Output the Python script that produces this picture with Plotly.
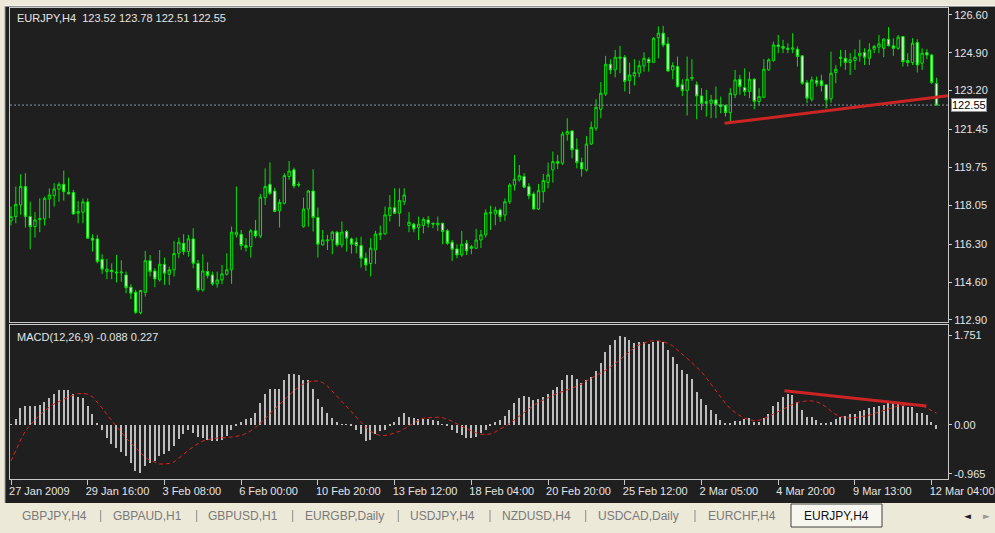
import plotly.graph_objects as go

# ---------------- data ----------------
opens = [117.35,117.54,118.06,118.89,117.54,117.09,117.40,117.44,118.33,118.48,
 118.77,118.99,118.62,118.62,117.69,117.74,118.20,116.57,116.54,115.62,
 115.07,115.13,115.05,115.01,114.92,114.37,114.14,113.23,114.14,115.56,
 115.10,114.70,115.40,114.95,115.15,115.89,116.34,115.97,116.54,115.44,
 114.25,115.07,114.92,114.52,114.70,114.95,115.15,116.72,116.75,116.24,
 116.19,116.90,116.67,118.39,118.99,118.69,117.80,118.14,119.34,119.64,
 118.99,117.09,117.88,118.69,117.50,116.27,116.45,116.49,116.84,116.27,
 116.87,116.54,116.39,116.24,115.67,115.43,116.04,116.72,116.76,117.59,
 117.94,117.69,118.21,117.14,117.20,117.05,117.14,117.39,117.24,117.17,
 117.24,116.90,116.39,116.09,115.82,116.34,116.19,116.12,116.49,116.72,
 117.72,117.66,117.84,117.61,118.21,118.96,119.19,119.34,118.89,118.56,
 117.88,118.66,119.08,119.64,120.01,119.94,121.24,121.39,120.56,119.97,
 119.64,120.80,121.51,122.36,123.05,124.38,124.13,124.70,124.70,123.65,
 123.86,123.98,124.31,124.61,124.47,125.58,125.78,125.30,124.13,124.28,
 123.46,123.20,123.74,123.46,122.96,122.70,122.63,122.78,122.56,122.54,
 122.21,123.01,123.71,123.34,123.16,123.71,122.71,122.90,124.13,124.55,
 125.25,125.18,125.10,125.06,125.06,124.76,123.56,122.81,123.65,123.64,
 123.46,122.83,124.01,124.64,124.65,124.46,124.55,124.76,124.91,124.65,
 125.06,125.15,125.10,125.51,125.21,125.10,125.63,124.55,124.46,125.36,
 124.43,124.91,124.80,123.52]
highs = [117.99,118.89,119.44,119.49,118.21,117.74,118.36,118.44,118.81,119.04,
 119.08,119.61,119.29,118.74,118.24,118.36,118.36,116.75,116.72,115.85,
 115.64,115.44,115.82,115.58,115.07,114.50,114.25,114.25,116.00,115.82,
 115.22,116.04,115.70,115.30,116.45,116.60,116.75,116.72,117.02,115.59,
 115.85,115.49,115.07,115.07,115.37,115.89,117.09,118.89,116.94,116.57,
 116.99,117.39,118.56,119.71,119.98,118.84,118.32,119.49,120.04,119.74,
 119.11,118.39,118.74,119.67,117.94,116.94,116.72,116.90,116.90,117.32,
 116.94,116.60,116.60,116.64,115.92,116.57,116.90,117.14,117.99,118.51,
 118.81,118.81,118.81,117.74,117.27,117.54,117.50,117.57,117.27,117.54,
 117.27,116.99,116.49,116.30,116.90,116.49,116.27,116.99,116.94,117.87,
 118.03,117.99,117.91,118.36,119.04,120.31,119.86,119.49,119.04,118.66,
 119.01,119.46,119.97,120.46,120.31,121.36,121.96,121.43,121.06,120.19,
 121.16,121.81,122.81,123.58,124.76,124.61,125.03,125.21,124.80,124.46,
 124.61,124.55,124.92,124.70,125.60,126.08,126.11,125.60,124.47,124.73,
 123.71,124.73,124.61,123.61,123.31,123.23,123.01,123.38,122.93,122.56,
 123.31,124.13,123.91,124.20,124.05,123.76,123.31,124.61,124.65,125.40,
 125.70,125.48,125.33,125.78,125.18,124.80,123.68,123.83,123.83,123.91,
 123.46,124.95,124.35,125.03,125.03,124.88,125.06,125.48,125.10,125.33,
 125.25,125.70,125.55,126.05,125.55,125.70,125.66,124.88,125.55,125.51,
 125.10,125.06,124.85,123.78]
lows = [117.14,117.24,117.62,117.05,116.07,116.60,116.84,117.14,117.47,117.99,
 118.21,118.26,118.54,117.62,117.24,117.24,116.54,115.97,115.44,114.97,
 114.73,114.73,114.58,114.62,114.10,113.84,113.17,113.15,113.95,114.85,
 114.37,114.62,114.47,114.47,114.85,115.67,115.82,115.74,115.22,114.17,
 114.17,114.77,114.44,114.35,114.50,114.89,114.52,116.60,116.04,115.97,
 115.70,116.57,116.57,118.06,118.51,117.74,117.05,118.09,119.19,118.81,
 118.86,117.05,117.09,116.87,115.70,116.24,116.04,115.85,116.19,116.15,
 115.97,115.88,115.89,115.25,115.10,114.85,115.41,116.49,116.72,117.32,
 117.65,117.09,118.06,116.84,116.84,116.49,116.79,117.05,117.02,116.90,
 116.30,116.27,115.55,115.67,115.74,115.82,115.85,116.09,116.13,116.60,
 116.94,117.15,117.30,117.35,118.11,118.71,119.11,118.81,118.32,117.84,
 117.84,118.17,118.81,119.07,119.67,119.86,120.95,120.16,119.71,119.34,
 119.56,120.76,121.39,121.96,122.96,123.94,123.80,123.98,123.16,123.05,
 123.43,123.80,124.05,124.05,124.46,124.65,125.15,124.05,123.71,123.34,
 122.96,122.08,123.64,121.91,122.33,122.03,121.96,121.96,122.18,122.03,
 121.73,122.86,123.01,122.96,122.86,122.36,122.56,122.86,124.10,124.50,
 124.88,124.88,124.88,124.88,124.28,123.46,122.63,122.71,123.38,123.16,
 122.41,122.66,123.53,124.28,124.13,123.90,124.13,124.50,124.35,124.35,
 124.88,124.88,124.70,125.18,124.76,125.03,124.28,124.28,124.35,124.01,
 124.13,124.61,123.50,122.51]
closes = [117.54,118.09,118.89,117.54,117.09,117.39,117.45,118.36,118.51,118.78,
 118.99,118.66,118.56,117.66,117.77,118.20,116.57,116.48,115.52,115.18,
 115.18,115.07,115.01,115.05,114.35,114.10,113.24,114.22,115.56,115.07,
 114.74,115.40,115.00,115.15,115.88,116.39,115.97,116.54,115.44,114.25,
 115.10,114.89,114.52,114.70,114.97,115.15,116.84,116.84,116.24,116.15,
 116.90,116.67,118.41,118.89,118.59,117.77,118.18,119.38,119.59,118.92,
 118.96,117.88,118.69,117.50,116.30,116.49,116.49,116.84,116.27,116.84,
 116.57,116.30,116.24,115.67,115.37,116.12,116.76,116.79,117.62,117.94,
 117.69,118.26,118.51,117.29,116.99,117.20,117.42,117.24,117.21,117.24,
 116.87,116.34,116.07,115.82,116.30,116.00,116.12,116.49,116.72,117.71,
 117.70,117.84,117.54,118.21,118.96,119.22,119.38,118.86,118.48,117.88,
 118.71,119.16,119.41,120.01,119.94,121.25,121.36,120.54,119.97,119.68,
 120.80,121.55,122.45,123.08,124.38,124.13,124.70,124.66,123.61,123.90,
 124.01,124.32,124.65,124.46,125.55,125.78,125.25,124.08,124.32,123.38,
 123.20,123.71,123.79,122.96,122.63,122.63,122.78,122.56,122.48,122.21,
 123.08,123.68,123.38,123.16,123.71,122.71,122.93,124.16,124.58,125.25,
 125.18,125.10,125.06,125.12,124.73,123.53,122.86,123.68,123.53,123.43,
 122.78,123.98,124.16,124.70,124.46,124.58,124.70,124.88,124.70,125.03,
 125.18,125.30,125.51,125.21,125.10,125.60,124.50,124.46,125.33,124.35,
 124.88,124.80,123.56,122.55]

macd_hist = [0.01,0.11,0.32,0.36,0.36,0.36,0.39,0.45,0.52,0.60,
 0.69,0.69,0.69,0.60,0.54,0.52,0.37,0.21,0.02,-0.10,
 -0.26,-0.37,-0.45,-0.54,-0.62,-0.76,-0.91,-0.94,-0.81,-0.75,
 -0.71,-0.62,-0.58,-0.52,-0.41,-0.28,-0.19,-0.10,-0.16,-0.24,
 -0.26,-0.30,-0.32,-0.32,-0.29,-0.23,-0.11,-0.02,0.06,0.11,
 0.13,0.24,0.42,0.60,0.71,0.71,0.71,0.88,0.99,0.99,
 0.97,0.88,0.88,0.71,0.50,0.34,0.23,0.13,0.05,0.01,
 0.01,-0.01,-0.10,-0.19,-0.32,-0.30,-0.19,-0.13,-0.11,-0.01,
 0.05,0.16,0.24,0.16,0.13,0.11,0.11,0.11,0.10,0.08,
 0.01,-0.01,-0.10,-0.16,-0.21,-0.26,-0.26,-0.24,-0.16,-0.10,
 -0.01,0.06,0.10,0.18,0.30,0.43,0.52,0.56,0.54,0.49,
 0.50,0.54,0.60,0.68,0.75,0.88,0.97,0.97,0.89,0.82,
 0.88,0.93,1.06,1.21,1.43,1.56,1.67,1.75,1.72,1.67,
 1.60,1.62,1.62,1.58,1.62,1.64,1.62,1.47,1.33,1.19,
 1.08,0.99,0.89,0.65,0.50,0.39,0.29,0.21,0.10,0.02,
 0.03,0.08,0.08,0.11,0.13,0.06,0.05,0.13,0.21,0.37,
 0.45,0.54,0.60,0.58,0.45,0.29,0.16,0.16,0.10,0.03,
 0.03,0.06,0.11,0.16,0.18,0.21,0.21,0.28,0.30,0.32,
 0.34,0.37,0.39,0.42,0.42,0.41,0.37,0.34,0.34,0.23,
 0.23,0.19,0.06,-0.088]
macd_signal = [-0.71,-0.50,-0.30,-0.12,0.00,0.10,0.19,0.28,0.35,0.41,
 0.46,0.51,0.55,0.58,0.61,0.62,0.60,0.55,0.45,0.33,
 0.20,0.08,-0.04,-0.16,-0.26,-0.36,-0.46,-0.56,-0.64,-0.70,
 -0.74,-0.77,-0.77,-0.76,-0.73,-0.66,-0.58,-0.50,-0.43,-0.37,
 -0.32,-0.29,-0.27,-0.26,-0.26,-0.25,-0.24,-0.23,-0.21,-0.17,
 -0.12,-0.05,0.03,0.12,0.22,0.31,0.40,0.50,0.59,0.67,
 0.74,0.80,0.84,0.86,0.86,0.83,0.76,0.66,0.56,0.45,
 0.34,0.24,0.14,0.04,-0.05,-0.13,-0.18,-0.21,-0.21,-0.19,
 -0.16,-0.13,-0.08,-0.02,0.04,0.09,0.13,0.14,0.15,0.15,
 0.14,0.11,0.07,0.02,-0.03,-0.08,-0.12,-0.16,-0.19,-0.19,
 -0.18,-0.14,-0.08,-0.04,0.03,0.11,0.18,0.25,0.31,0.38,
 0.44,0.49,0.54,0.58,0.62,0.65,0.69,0.72,0.76,0.80,
 0.86,0.91,0.96,1.01,1.07,1.13,1.20,1.28,1.36,1.44,
 1.51,1.57,1.61,1.64,1.65,1.65,1.63,1.60,1.55,1.47,
 1.39,1.30,1.22,1.13,1.04,0.92,0.79,0.66,0.53,0.42,
 0.32,0.24,0.18,0.13,0.10,0.08,0.09,0.12,0.16,0.21,
 0.26,0.30,0.35,0.40,0.44,0.46,0.47,0.47,0.45,0.41,
 0.35,0.27,0.20,0.16,0.14,0.13,0.14,0.15,0.17,0.19,
 0.22,0.25,0.28,0.31,0.34,0.37,0.38,0.39,0.39,0.38,
 0.37,0.33,0.28,0.227]

bar_index = list(range(len(opens)))

time_tick_index = [0, 16, 32, 48, 64, 80, 96, 112, 128, 144, 160, 176, 192]
time_tick_labels = ["27 Jan 2009", "29 Jan 16:00", "3 Feb 08:00", "6 Feb 00:00",
                    "10 Feb 20:00", "13 Feb 12:00", "18 Feb 04:00", "20 Feb 20:00",
                    "25 Feb 12:00", "2 Mar 05:00", "4 Mar 20:00", "9 Mar 13:00",
                    "12 Mar 04:00"]
price_ticks = [126.60, 124.90, 123.20, 121.45, 119.75, 118.05, 116.30, 114.60, 112.90]
macd_ticks = [1.751, 0.00, -0.965]
macd_tick_labels = ["1.751", "0.00", "-0.965"]
current_price = 122.55

price_trend_x = [148.8, 195.4]
price_trend_y = [121.73, 122.97]
macd_trend_x = [161.3, 190.9]
macd_trend_y = [0.67, 0.37]

title_main = "EURJPY,H4  123.52 123.78 122.51 122.55"
title_macd = "MACD(12,26,9) -0.088 0.227"
tabs = ["GBPJPY,H4", "GBPAUD,H1", "GBPUSD,H1", "EURGBP,Daily", "USDJPY,H4",
        "NZDUSD,H4", "USDCAD,Daily", "EURCHF,H4", "EURJPY,H4"]
active_tab = "EURJPY,H4"

# ---------------- figure ----------------
W, H = 995, 533
ML, MR, MT, MB = 10, 47, 8, 54
PW, PH = W - ML - MR, H - MT - MB

def px_x(p):
    return (p - ML) / PW

def px_y(p):
    return (H - MB - p) / PH

BG = "#1f1f1f"
FRAME = "#c8c8c8"
TXT = "#e4e4e4"
FONT = "Liberation Sans"
XR = [-0.21, 195.4]

fig = go.Figure()
fig.add_trace(go.Candlestick(
    x=bar_index, open=opens, high=highs, low=lows, close=closes,
    xaxis="x", yaxis="y",
    increasing=dict(line=dict(color="#00e600", width=1), fillcolor=BG),
    decreasing=dict(line=dict(color="#00e600", width=1), fillcolor="#d8ffd8"),
    whiskerwidth=0, showlegend=False, hoverinfo="skip"))

fig.add_trace(go.Scatter(x=[XR[0], XR[1]], y=[current_price, current_price],
    mode="lines", line=dict(color="#8a98a8", width=1, dash="2px,2px"),
    xaxis="x", yaxis="y", showlegend=False, hoverinfo="skip"))

fig.add_trace(go.Scatter(x=price_trend_x, y=price_trend_y, mode="lines",
    line=dict(color="#cc2424", width=3), xaxis="x", yaxis="y",
    showlegend=False, hoverinfo="skip"))

fig.add_trace(go.Bar(x=bar_index, y=macd_hist, width=0.3,
    marker=dict(color="#bdbdbd", line=dict(width=0)),
    xaxis="x2", yaxis="y2", showlegend=False, hoverinfo="skip"))

fig.add_trace(go.Scatter(x=bar_index, y=macd_signal, mode="lines",
    line=dict(color="#e02020", width=1, dash="4px,3px"),
    xaxis="x2", yaxis="y2", showlegend=False, hoverinfo="skip"))

fig.add_trace(go.Scatter(x=macd_trend_x, y=macd_trend_y, mode="lines",
    line=dict(color="#cc2424", width=3), xaxis="x2", yaxis="y2",
    showlegend=False, hoverinfo="skip"))

axis_common = dict(showgrid=False, zeroline=False, showline=True, mirror=True,
                   linecolor=FRAME, linewidth=1, automargin=False)

main_top = 8
main_bot = 321.7
macd_top = 325

fig.update_layout(
    width=W, height=H,
    margin=dict(l=ML, r=MR, t=MT, b=MB, autoexpand=False),
    paper_bgcolor=BG, plot_bgcolor=BG,
    font=dict(family=FONT, size=11, color=TXT),
    bargap=0,
    hovermode=False,
    xaxis=dict(domain=[0, 1], anchor="y", range=XR, showticklabels=False,
               ticks="", rangeslider=dict(visible=False), **axis_common),
    yaxis=dict(domain=[px_y(main_bot), px_y(main_top)], anchor="x", side="right",
               range=[112.82, 126.91], tickvals=price_ticks,
               ticktext=["%.2f" % v for v in price_ticks],
               ticks="outside", ticklen=3, tickcolor=FRAME,
               tickfont=dict(family=FONT, size=11, color=TXT), **axis_common),
    xaxis2=dict(domain=[0, 1], anchor="y2", range=XR, tickvals=time_tick_index,
                ticktext=time_tick_labels, ticks="outside", ticklen=5,
                tickcolor=FRAME, ticklabelposition="outside right",
                ticklabeloverflow="allow", ticklabelshift=-3, ticklabelstandoff=2,
                tickfont=dict(family=FONT, size=11, color=TXT), **axis_common),
    yaxis2=dict(domain=[0, px_y(macd_top)], anchor="x2", side="right",
                range=[-1.065, 1.96], tickvals=macd_ticks, ticktext=macd_tick_labels,
                ticks="outside", ticklen=3, tickcolor=FRAME,
                tickfont=dict(family=FONT, size=11, color=TXT), **axis_common),
)

shapes = []
shapes.append(dict(type="rect", xref="paper", yref="paper", x0=px_x(0), x1=px_x(W),
                   y0=px_y(6), y1=px_y(0), fillcolor="#ece9d8", line=dict(width=0)))
shapes.append(dict(type="line", xref="paper", yref="paper", x0=px_x(5), x1=px_x(W),
                   y0=px_y(6), y1=px_y(6), line=dict(color="#ffffff", width=1)))
shapes.append(dict(type="rect", xref="paper", yref="paper", x0=px_x(0), x1=px_x(5),
                   y0=px_y(H), y1=px_y(0), fillcolor="#ece9d8", line=dict(width=0)))
shapes.append(dict(type="line", xref="paper", yref="paper", x0=px_x(5), x1=px_x(5),
                   y0=px_y(503), y1=px_y(6), line=dict(color="#a0a0a0", width=1)))
shapes.append(dict(type="rect", xref="paper", yref="paper", x0=px_x(0), x1=px_x(W),
                   y0=px_y(H), y1=px_y(503), fillcolor="#ece9d8", line=dict(width=0)))
for sx in [100.7, 196.7, 292.7, 398.3, 490, 585.7, 695]:
    shapes.append(dict(type="line", xref="paper", yref="paper", x0=px_x(sx), x1=px_x(sx),
                       y0=px_y(522), y1=px_y(510), line=dict(color="#8c8c8c", width=1)))
shapes.append(dict(type="rect", xref="paper", yref="paper", x0=px_x(791), x1=px_x(882),
                   y0=px_y(527), y1=px_y(504), fillcolor="#f7f7f0",
                   line=dict(color="#404040", width=1)))
fig.update_layout(shapes=shapes)

tab_centers = [54, 147, 243, 344, 442, 536, 638, 742, 836]
ann = []
for name, cx in zip(tabs, tab_centers):
    ann.append(dict(text=name, xref="paper", yref="paper", x=px_x(cx), y=px_y(516),
                    xanchor="center", yanchor="middle", showarrow=False,
                    font=dict(family=FONT, size=12,
                              color="#111111" if name == active_tab else "#7a7a7a")))
ann.append(dict(text="\u25c4", xref="paper", yref="paper", x=px_x(967), y=px_y(516),
                xanchor="center", yanchor="middle", showarrow=False,
                font=dict(family="DejaVu Sans", size=9, color="#202020")))
ann.append(dict(text="\u25ba", xref="paper", yref="paper", x=px_x(986), y=px_y(516),
                xanchor="center", yanchor="middle", showarrow=False,
                font=dict(family="DejaVu Sans", size=9, color="#9a9a9a")))
ann.append(dict(text=title_main, xref="paper", yref="paper", x=px_x(15), y=px_y(18),
                xanchor="left", yanchor="middle", showarrow=False,
                font=dict(family=FONT, size=11, color=TXT)))
ann.append(dict(text=title_macd, xref="paper", yref="paper", x=px_x(15), y=px_y(337),
                xanchor="left", yanchor="middle", showarrow=False,
                font=dict(family=FONT, size=11, color=TXT)))
ann.append(dict(text="%.2f" % current_price, xref="paper", yref="y", x=px_x(951),
                y=current_price, xanchor="left", yanchor="middle", showarrow=False,
                bgcolor="#ffffff", bordercolor="#909090", borderwidth=1, borderpad=0,
                font=dict(family=FONT, size=11, color="#000000")))
fig.update_layout(annotations=ann)

fig.write_html("out.html", config={"displayModeBar": False},
               post_script="document.body.style.margin='0px';")
